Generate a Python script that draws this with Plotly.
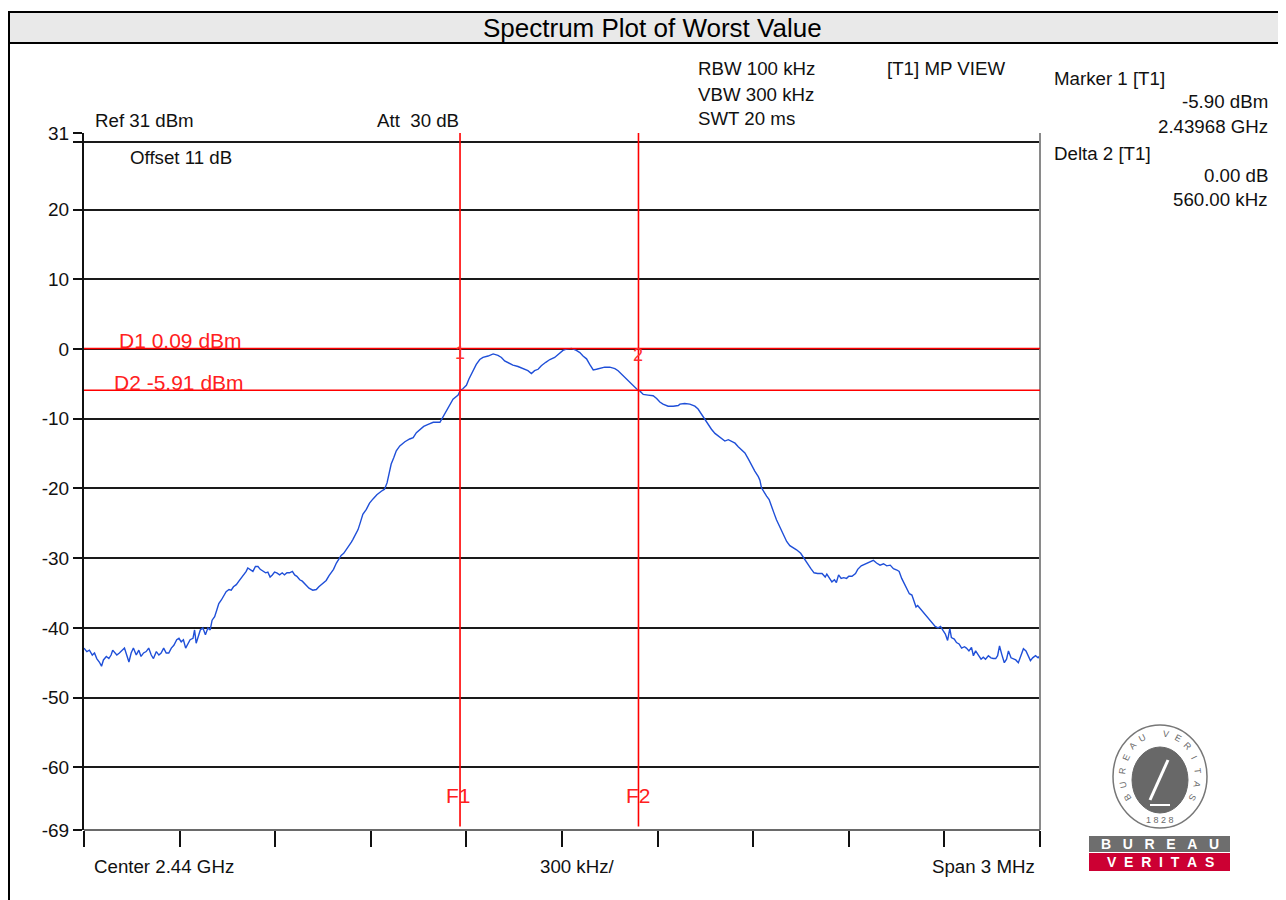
import plotly.graph_objects as go
import math

# ---------------- data ----------------
# frequency offset from centre 2.44 GHz, in MHz
freq_mhz = [
    -1.500, -1.491, -1.483, -1.474, -1.467, -1.460, -1.452, -1.445, -1.439, -1.430,
    -1.422, -1.415, -1.410, -1.403, -1.397, -1.389, -1.380, -1.373, -1.368, -1.359,
    -1.352, -1.345, -1.336, -1.328, -1.321, -1.313, -1.305, -1.297, -1.289, -1.282,
    -1.273, -1.265, -1.258, -1.250, -1.242, -1.234, -1.226, -1.218, -1.209, -1.202,
    -1.195, -1.188, -1.181, -1.174, -1.167, -1.158, -1.153, -1.148, -1.143, -1.135,
    -1.127, -1.119, -1.111, -1.104, -1.098, -1.090, -1.083, -1.077, -1.069, -1.062,
    -1.054, -1.045, -1.038, -1.031, -1.022, -1.014, -1.007, -0.999, -0.991, -0.986,
    -0.978, -0.970, -0.962, -0.954, -0.947, -0.939, -0.930, -0.923, -0.916, -0.909,
    -0.902, -0.895, -0.886, -0.878, -0.871, -0.863, -0.855, -0.846, -0.839, -0.832,
    -0.823, -0.815, -0.805, -0.794, -0.782, -0.771, -0.763, -0.752, -0.740, -0.731,
    -0.724, -0.717, -0.708, -0.700, -0.693, -0.685, -0.677, -0.668, -0.661, -0.656,
    -0.640, -0.633, -0.625, -0.614, -0.604, -0.593, -0.581, -0.567, -0.557, -0.549,
    -0.543, -0.536, -0.528, -0.520, -0.509, -0.493, -0.478, -0.467, -0.457, -0.446,
    -0.434, -0.420, -0.404, -0.383,
    -0.373, -0.363, -0.352, -0.342, -0.326, -0.319, -0.311, -0.300, -0.292, -0.279,
    -0.269, -0.258, -0.248, -0.232, -0.216, -0.201, -0.190, -0.180, -0.169, -0.154,
    -0.138, -0.122, -0.107, -0.096, -0.086, -0.075, -0.065, -0.051, -0.038, -0.023,
    -0.009, 0.003, 0.014, 0.030, 0.045, 0.056, 0.066, 0.077, 0.087, 0.098,
    0.108, 0.119, 0.134, 0.150, 0.166, 0.176, 0.187, 0.197, 0.208, 0.218,
    0.228, 0.236, 0.244, 0.255, 0.270, 0.286, 0.297, 0.307, 0.317, 0.333,
    0.349, 0.365,
    0.370, 0.385, 0.401, 0.417, 0.427, 0.438, 0.448, 0.459, 0.469, 0.480,
    0.490, 0.501, 0.511, 0.522, 0.532, 0.543, 0.553, 0.564, 0.574, 0.585,
    0.595, 0.605, 0.616, 0.621, 0.626, 0.634, 0.642, 0.650, 0.658, 0.665,
    0.673, 0.682, 0.689, 0.696, 0.705, 0.715,
    0.736, 0.749, 0.760, 0.770, 0.781, 0.791, 0.802, 0.816, 0.826, 0.831,
    0.840, 0.847, 0.855, 0.861, 0.868, 0.876, 0.884, 0.893, 0.900, 0.910,
    0.921, 0.928, 0.939, 0.953, 0.966, 0.977, 0.987, 0.998, 1.009, 1.019,
    1.030, 1.040, 1.051, 1.058, 1.066, 1.074, 1.083, 1.090, 1.098, 1.106,
    1.111, 1.116, 1.125, 1.132, 1.140, 1.148, 1.157, 1.164, 1.171, 1.180,
    1.188, 1.196, 1.203, 1.210, 1.217, 1.222, 1.231, 1.238, 1.246, 1.254,
    1.263, 1.269, 1.277, 1.285, 1.291, 1.298, 1.306, 1.315, 1.322, 1.329,
    1.338, 1.346, 1.353, 1.361, 1.367, 1.373, 1.380, 1.388, 1.395, 1.401,
    1.409, 1.417, 1.424, 1.432, 1.441, 1.448, 1.456, 1.462, 1.470, 1.477,
    1.486, 1.494, 1.500,
]
# trace level, dBm
level_dbm = [
    -42.9, -43.4, -43.2, -43.9, -43.6, -44.4, -44.9, -45.5, -44.6, -44.1,
    -44.4, -43.9, -43.2, -43.6, -43.9, -43.6, -43.2, -42.9, -43.6, -44.9,
    -43.6, -42.9, -43.9, -43.2, -44.1, -43.6, -43.4, -42.9, -43.9, -44.4,
    -43.4, -43.9, -43.6, -42.9, -43.6, -43.6, -42.9, -42.5, -41.7, -41.5,
    -42.0, -41.7, -42.9, -42.2, -41.7, -41.5, -40.3, -42.2, -41.5, -40.3,
    -40.0, -41.0, -40.0, -40.3, -38.9, -38.4, -37.4, -36.5, -36.0, -35.4,
    -34.8, -34.5, -34.6, -34.1, -33.8, -33.3, -32.9, -32.4, -31.9, -31.4,
    -31.7, -31.9, -31.2, -31.2, -31.6, -31.8, -32.1, -32.0, -32.7, -32.4,
    -32.0, -32.1, -32.4, -32.1, -32.4, -32.1, -32.1, -31.9, -32.4, -32.6,
    -33.1, -33.3, -33.8, -34.3, -34.6, -34.5, -34.1, -33.6, -33.2, -32.5,
    -32.0, -31.6, -30.7, -30.1, -29.6, -29.3, -28.8, -28.3, -27.7, -27.3,
    -25.9, -24.9, -23.7, -23.0, -22.1, -21.5, -20.9, -20.4, -20.1, -19.2,
    -17.7, -16.5, -15.6, -14.6, -13.9, -13.3, -12.9, -12.7, -12.0, -11.5,
    -11.1, -10.8, -10.5, -10.5,
    -9.7, -8.9, -7.9, -7.2, -6.6, -5.9, -5.7, -5.2, -4.3, -3.1,
    -2.2, -1.5, -1.2, -1.0, -0.7, -0.9, -1.2, -1.7, -2.0, -2.3,
    -2.5, -2.8, -3.1, -3.5, -3.1, -2.9, -2.4, -1.9, -1.5, -1.2,
    -0.7, -0.2, 0.0, 0.1, -0.2, -0.5, -1.0, -1.4, -2.2, -3.0,
    -2.9, -2.8, -2.6, -2.6, -2.8, -3.1, -3.6, -4.1, -4.6, -5.0,
    -5.5, -5.8, -6.0, -6.5, -6.6, -6.7, -7.1, -7.6, -7.9, -8.2,
    -8.2, -8.1,
    -7.9, -7.8, -7.9, -8.2, -8.6, -9.4, -10.1, -10.8, -11.5, -12.1,
    -12.5, -12.9, -13.2, -13.0, -13.2, -13.5, -14.0, -14.4, -14.9, -15.8,
    -16.7, -17.5, -18.3, -18.8, -19.9, -20.6, -21.1, -21.6, -22.5, -23.5,
    -24.5, -25.4, -26.1, -26.9, -27.6, -28.2,
    -28.8, -29.3, -30.1, -30.8, -31.5, -32.1, -32.2, -32.2, -32.7, -32.3,
    -32.9, -33.4, -33.1, -33.5, -32.4, -32.9, -32.8, -32.9, -32.6, -32.6,
    -32.2, -31.6, -31.1, -30.8, -30.6, -30.3, -30.7, -31.0, -30.8, -31.1,
    -31.0, -31.5, -31.7, -31.9, -32.9, -33.6, -34.5, -35.1, -35.3, -36.3,
    -37.0, -36.8, -37.3, -37.6, -38.0, -38.5, -39.0, -39.3, -39.8, -40.0,
    -39.8, -40.4, -40.9, -41.8, -40.1, -41.4, -41.6, -42.1, -42.3, -42.9,
    -42.7, -42.9, -43.3, -42.8, -44.0, -43.3, -43.8, -44.5, -44.2, -44.5,
    -44.0, -44.3, -44.4, -44.4, -44.0, -42.6, -43.8, -45.0, -44.5, -43.3,
    -44.3, -44.5, -44.6, -45.0, -43.8, -43.0, -43.3, -44.0, -44.7, -44.3,
    -44.0, -44.3, -44.0,
]

# y-axis ticks (dBm) and labels
y_ticks = [31, 29.7, 20, 10, 0, -10, -20, -30, -40, -50, -60, -69]
y_tick_labels = ["31", "", "20", "10", "0", "-10", "-20", "-30", "-40", "-50", "-60", "-69"]
# x-axis divisions (MHz offset), 300 kHz/div
x_ticks = [-1.5, -1.2, -0.9, -0.6, -0.3, 0.0, 0.3, 0.6, 0.9, 1.2, 1.5]

# frequency / level markers
f_lines = [-0.32, 0.24]          # F1, F2 (2.43968 GHz, +560 kHz)
f_labels = ["F1", "F2"]
d_lines = [0.09, -5.91]          # D1, D2
d_labels = ["D1 0.09 dBm", "D2 -5.91 dBm"]

settings_text = ["RBW 100 kHz", "VBW 300 kHz", "SWT 20 ms"]
marker_text = ["Marker 1 [T1]", "-5.90 dBm", "2.43968 GHz", "Delta 2 [T1]", "0.00 dB", "560.00 kHz"]

n = min(len(freq_mhz), len(level_dbm))

# ---------------- layout geometry (page pixel coordinates) ----------------
FW, FH = 1286, 900
OFF = 8                       # page body margin
PL, PT, PR, PB = 84, 133, 1040, 830   # plot box on the page
ML, MT = PL - OFF, PT - OFF
MR, MB = FW - (PR - OFF), FH - (PB - OFF)
PW, PH = PR - PL, PB - PT
FONT = "Liberation Sans, Arial, sans-serif"
TXT = 18.7


def px(x):
    return (x - PL) / PW


def py(y):
    return (PB - y) / PH


fig = go.Figure()
fig.add_trace(go.Scatter(
    x=freq_mhz[:n], y=level_dbm[:n], mode="lines",
    line=dict(color="#1f4fd8", width=1.4), hoverinfo="skip", showlegend=False,
))

shapes = []
annotations = []

# outer frame + title bar
shapes.append(dict(type="line", xref="paper", yref="paper", x0=px(9), x1=px(9), y0=py(12), y1=py(910),
                   line=dict(color="#000", width=2)))
shapes.append(dict(type="rect", xref="paper", yref="paper", x0=px(9), x1=px(1300), y0=py(43), y1=py(12),
                   fillcolor="#e9e9e9", line=dict(color="#000", width=2), layer="below"))
annotations.append(dict(text="Spectrum Plot of Worst Value", xref="paper", yref="paper", x=px(652), y=py(28),
                        showarrow=False, font=dict(size=26, color="#000", family=FONT),
                        xanchor="center", yanchor="middle"))

# plot frame right / bottom (grey)
shapes.append(dict(type="line", xref="paper", yref="paper", x0=1, x1=1, y0=0, y1=1,
                   line=dict(color="#8a8a8a", width=2)))
shapes.append(dict(type="line", xref="paper", yref="paper", x0=0, x1=1, y0=0, y1=0,
                   line=dict(color="#6a6a6a", width=2)))

# red display lines
for fv, lab, sh in zip(f_lines, f_labels, [-2, 0]):
    shapes.append(dict(type="line", xref="x", yref="paper", x0=fv, x1=fv, y0=0.005, y1=1,
                       line=dict(color="#ff0000", width=1.6)))
    annotations.append(dict(text=lab, xref="x", yref="paper", x=fv, y=py(795), xshift=sh,
                            showarrow=False, font=dict(size=21, color="#ff2020", family=FONT),
                            xanchor="center", yanchor="middle"))
for dv, lab, xx in zip(d_lines, d_labels, [117, 112]):
    shapes.append(dict(type="line", xref="paper", yref="y", x0=0, x1=1, y0=dv, y1=dv,
                       line=dict(color="#ff0000", width=1.6)))
    annotations.append(dict(text=lab, xref="paper", yref="y", x=px(xx), y=dv, yshift=8,
                            showarrow=False, font=dict(size=21, color="#ff2020", family=FONT),
                            xanchor="left", yanchor="middle"))

# marker numbers
for fv, lab, yy in zip(f_lines, ["1", "2"], [353, 355]):
    annotations.append(dict(text=lab, xref="x", yref="paper", x=fv, y=py(yy),
                            showarrow=False, font=dict(size=18, color="#ff3030", family=FONT),
                            xanchor="center", yanchor="middle"))


def label(text, x, y, anchor="left", size=TXT, color="#111"):
    annotations.append(dict(text=text, xref="paper", yref="paper", x=px(x), y=py(y), showarrow=False,
                            font=dict(size=size, color=color, family=FONT),
                            xanchor=anchor, yanchor="middle"))


label("Ref 31 dBm", 93, 121)
label("Att\u00a0\u00a030 dB", 375, 121)
label("Offset 11 dB", 128, 157)
for t, yy in zip(settings_text, [68, 94, 118]):
    label(t, 696, yy)
label("[T1] MP VIEW", 885, 68)
label(marker_text[0], 1052, 78)
label(marker_text[1], 1270, 101, anchor="right")
label(marker_text[2], 1270, 126, anchor="right")
label(marker_text[3], 1052, 153)
label(marker_text[4], 1270, 175, anchor="right")
label(marker_text[5], 1270, 200, anchor="right")
label("Center 2.44 GHz", 92, 866)
label("300 kHz/", 577, 866, anchor="center")
label("Span 3 MHz", 1037, 866, anchor="right")

# ---------------- Bureau Veritas logo ----------------
shapes.append(dict(type="circle", xref="paper", yref="paper", x0=px(1113), x1=px(1207), y0=py(828), y1=py(725),
                   line=dict(color="#777", width=1.5), fillcolor="#fff"))
shapes.append(dict(type="circle", xref="paper", yref="paper", x0=px(1132), x1=px(1188), y0=py(813), y1=py(747),
                   line=dict(color="#666", width=1), fillcolor="#686868"))
seal_text = "BUREAU VERITAS"
cx, cy, ra, rb = 1160, 776, 38, 43
for i, ch in enumerate(seal_text):
    if ch == " ":
        continue
    th = 210 - i * (240 / (len(seal_text) - 1))
    x = cx + ra * math.cos(math.radians(th))
    y = cy - rb * math.sin(math.radians(th))
    annotations.append(dict(text=ch, xref="paper", yref="paper", x=px(x), y=py(y), showarrow=False,
                            textangle=90 - th, font=dict(size=9, color="#6a6a6a", family=FONT),
                            xanchor="center", yanchor="middle"))
label("1\u00a08\u00a02\u00a08", 1160, 820, anchor="center", size=9, color="#6a6a6a")
# simple figure in the seal
shapes.append(dict(type="line", xref="paper", yref="paper", x0=px(1150), x1=px(1168), y0=py(800), y1=py(760),
                   line=dict(color="#fff", width=3)))
shapes.append(dict(type="line", xref="paper", yref="paper", x0=px(1150), x1=px(1170), y0=py(805), y1=py(805),
                   line=dict(color="#fff", width=2)))
shapes.append(dict(type="rect", xref="paper", yref="paper", x0=px(1089), x1=px(1230), y0=py(852), y1=py(836),
                   fillcolor="#6e6e6e", line=dict(width=0)))
shapes.append(dict(type="rect", xref="paper", yref="paper", x0=px(1089), x1=px(1230), y0=py(871), y1=py(853),
                   fillcolor="#cc0033", line=dict(width=0)))
label("<b>B\u00a0\u00a0\u00a0U\u00a0\u00a0\u00a0R\u00a0\u00a0\u00a0E\u00a0\u00a0\u00a0A\u00a0\u00a0\u00a0U</b>",
      1160, 844, anchor="center", size=14, color="#fff")
label("<b>V\u00a0\u00a0E\u00a0\u00a0R\u00a0\u00a0I\u00a0\u00a0T\u00a0\u00a0A\u00a0\u00a0S</b>",
      1160, 862, anchor="center", size=14, color="#fff")

fig.update_layout(
    width=FW, height=FH,
    margin=dict(l=ML, r=MR, t=MT, b=MB, pad=0),
    paper_bgcolor="#ffffff", plot_bgcolor="#ffffff",
    font=dict(family=FONT, color="#111", size=TXT),
    showlegend=False,
    shapes=shapes, annotations=annotations,
    xaxis=dict(range=[-1.5, 1.5], tickvals=x_ticks, ticktext=[""] * len(x_ticks),
               ticks="outside", ticklen=16, tickwidth=2, tickcolor="#111",
               showgrid=False, zeroline=False, showline=False, fixedrange=True),
    yaxis=dict(range=[-69, 31], tickvals=y_ticks, ticktext=y_tick_labels,
               ticks="outside", ticklen=9, tickwidth=2, tickcolor="#111",
               showgrid=True, gridcolor="#1a1a1a", gridwidth=2, zeroline=False,
               showline=True, linecolor="#111", linewidth=2,
               tickfont=dict(size=19, color="#111", family=FONT), fixedrange=True),
)

fig.write_html("out.html")
